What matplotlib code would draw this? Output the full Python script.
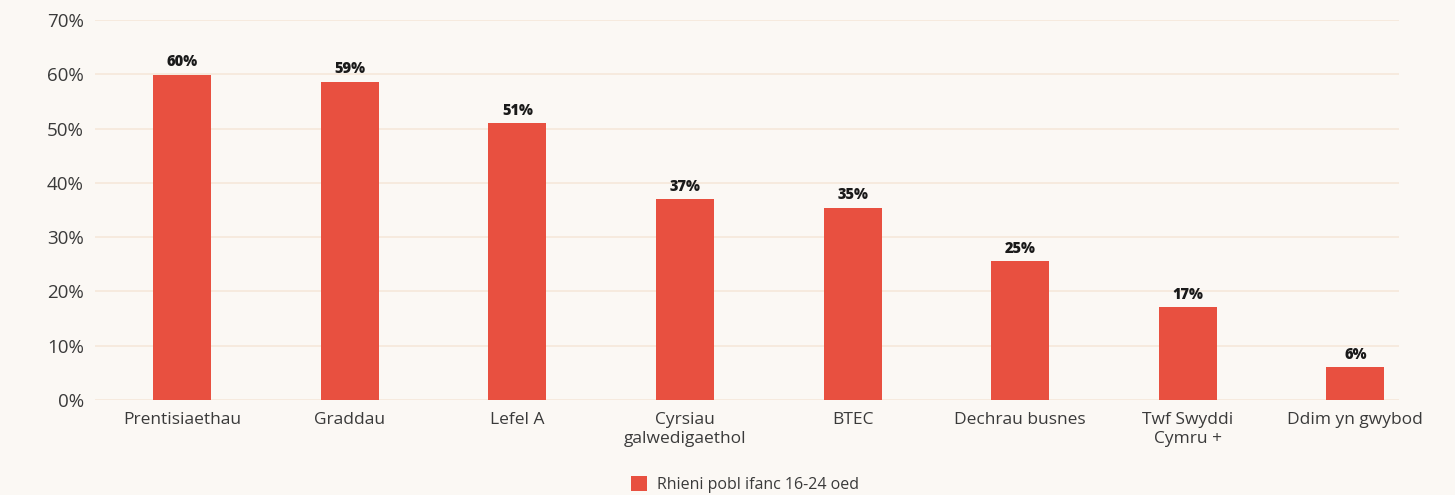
import matplotlib
matplotlib.use("Agg")
import matplotlib.pyplot as plt
import numpy as np

categories = ["Prentisiaethau", "Graddau", "Lefel A", "Cyrsiau\ngalwedigaethol",
              "BTEC", "Dechrau busnes", "Twf Swyddi\nCymru +", "Ddim yn gwybod"]
values = [59.9, 58.6, 51.0, 37.0, 35.4, 25.6, 17.1, 6.1]
value_labels = ["60%", "59%", "51%", "37%", "35%", "25%", "17%", "6%"]
series_name = "Rhieni pobl ifanc 16-24 oed"
yticks = [0, 10, 20, 30, 40, 50, 60, 70]

plt.rcParams['font.family'] = ['Open Sans', 'DejaVu Sans']

bg = "#fbf8f4"
bar_color = "#e85040"
grid_color = "#f5e8da"
text_color = "#3a3a3a"

fig = plt.figure(figsize=(14.55, 4.95), dpi=100, facecolor=bg)
ax = fig.add_axes([0.0653, 0.192, 0.8962, 0.7677], facecolor=bg)

x = np.arange(len(categories))
bars = ax.bar(x, values, width=0.345, color=bar_color, zorder=3, label=series_name)

for xi, v, lab in zip(x, values, value_labels):
    ax.text(xi, v + 0.8, lab, ha="center", va="bottom", fontsize=10.5,
            fontweight="heavy", color="#1a1a1a", zorder=4)

ax.set_xlim(-0.52, 7.26)
ax.set_ylim(0, 70)
ax.set_yticks(yticks)
ax.set_yticklabels([f"{t}%" for t in yticks], fontsize=13.5, color=text_color)
ax.set_xticks(x)
ax.set_xticklabels(categories, fontsize=12.5, color=text_color, linespacing=1.2)
ax.tick_params(axis="both", length=0)
ax.tick_params(axis="y", pad=8)
ax.tick_params(axis="x", pad=9)
ax.grid(axis="y", color=grid_color, linewidth=1.2, zorder=0)
for s in ax.spines.values():
    s.set_visible(False)

leg = fig.legend(handles=[bars], labels=[series_name], loc="lower center",
                 bbox_to_anchor=(0.512, -0.025), frameon=False, fontsize=11.5,
                 handlelength=1.0, handleheight=1.0, handletextpad=0.6)
for t in leg.get_texts():
    t.set_color(text_color)

fig.savefig("out.png", dpi=100, facecolor=bg)
